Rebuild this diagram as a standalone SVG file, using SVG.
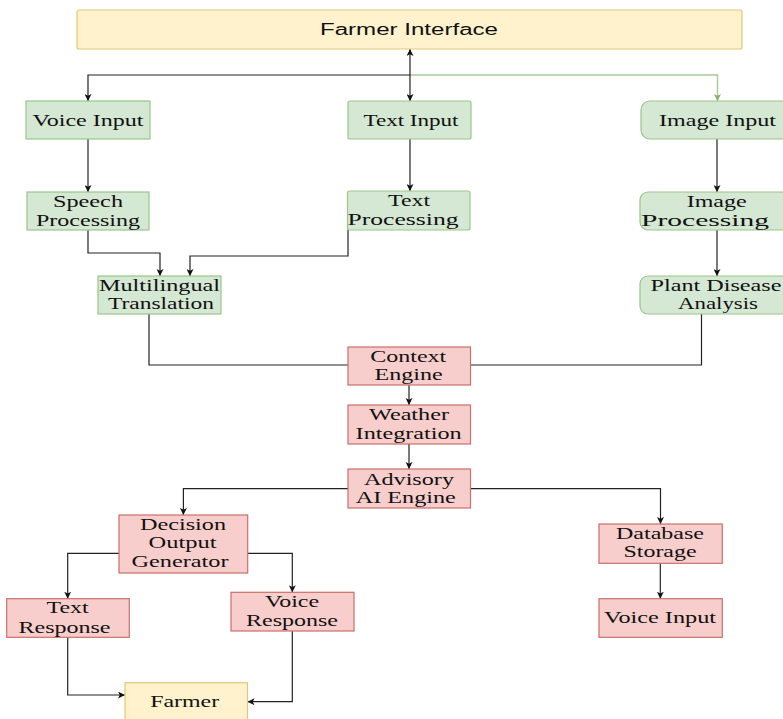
<svg xmlns="http://www.w3.org/2000/svg" width="783" height="719" viewBox="0 0 783 719">
<style>
.g{fill:#d5e8d4;stroke:#9bc58a;stroke-width:1.2}
.r{fill:#f8cecc;stroke:#cc6f6a;stroke-width:1.2}
.y{fill:#fff2cc;stroke:#e0c778;stroke-width:1.2}
text{font-family:"Liberation Serif","Times New Roman",serif;font-size:16px;fill:#111;text-anchor:middle}
.one{font-size:17.5px}
.sans{font-family:"Liberation Sans",Arial,sans-serif;font-size:16px}
.c{fill:none;stroke:#222;stroke-width:1.2}
.cg{fill:none;stroke:#a6cc94;stroke-width:1.4}
</style>
<defs>
<marker id="a" viewBox="0 0 8 8" refX="8" refY="4" markerWidth="7" markerHeight="7" markerUnits="userSpaceOnUse" orient="auto-start-reverse"><path d="M0,0 L8,4 L0,8 L2,4 z" fill="#111"/></marker>
<marker id="ag" viewBox="0 0 8 8" refX="8" refY="4" markerWidth="7" markerHeight="7" markerUnits="userSpaceOnUse" orient="auto"><path d="M0,0 L8,4 L0,8 L2,4 z" fill="#82b366"/></marker>
</defs>
<rect width="783" height="719" fill="#fff"/>
<g id="connectors">
<path class="c" d="M410,75 H88 V101" marker-end="url(#a)"/>
<path class="cg" d="M410,75 H717.5 V101" marker-end="url(#ag)"/>
<path class="c" d="M410,49 V101" marker-start="url(#a)" marker-end="url(#a)"/>
<path class="c" d="M88,139 V192" marker-end="url(#a)"/>
<path class="c" d="M410,139 V191" marker-end="url(#a)"/>
<path class="c" d="M717,139 V192" marker-end="url(#a)"/>
<path class="c" d="M88,230 V253 H160 V276" marker-end="url(#a)"/>
<path class="c" d="M348,230 V256 H190 V276" marker-end="url(#a)"/>
<path class="c" d="M717,230 V276" marker-end="url(#a)"/>
<path class="c" d="M149,314 V365 H348"/>
<path class="c" d="M701.5,314 V365 H470.5"/>
<path class="c" d="M409,385 V405" marker-end="url(#a)"/>
<path class="c" d="M409,444 V469" marker-end="url(#a)"/>
<path class="c" d="M348,488.7 H183.4 V515" marker-end="url(#a)"/>
<path class="c" d="M470.5,488.7 H660.5 V524" marker-end="url(#a)"/>
<path class="c" d="M119,553.3 H67.7 V598.7" marker-end="url(#a)"/>
<path class="c" d="M247.7,553.3 H292.3 V592.3" marker-end="url(#a)"/>
<path class="c" d="M660.3,563.3 V598.7" marker-end="url(#a)"/>
<path class="c" d="M67.7,637.3 V695 H125" marker-end="url(#a)"/>
<path class="c" d="M292.3,631 V701.7 H247.5" marker-end="url(#a)"/>
</g>
<g id="farmerInterface"><rect class="y" x="77" y="10" width="665" height="39" rx="2"/><text class="sans" x="409" y="35" textLength="178" lengthAdjust="spacingAndGlyphs">Farmer Interface</text></g>
<g id="voiceInput"><rect class="g" x="26" y="101" width="124" height="38"/><text class="one" x="88" y="126" textLength="111" lengthAdjust="spacingAndGlyphs">Voice Input</text></g>
<g id="textInput"><rect class="g" x="348" y="101" width="123" height="38" rx="2"/><text class="one" x="411" y="126" textLength="95" lengthAdjust="spacingAndGlyphs">Text Input</text></g>
<g id="imageInput"><rect class="g" x="641" y="101" width="150" height="38" rx="9"/><text class="one" x="717.5" y="126" textLength="117" lengthAdjust="spacingAndGlyphs">Image Input</text></g>
<g id="speechProcessing"><rect class="g" x="27" y="192" width="122" height="38"/><text x="88" y="206.7" textLength="70" lengthAdjust="spacingAndGlyphs">Speech</text><text x="88" y="225.7" textLength="104" lengthAdjust="spacingAndGlyphs">Processing</text></g>
<g id="textProcessing"><rect class="g" x="347.5" y="191" width="122.5" height="39" rx="2"/><text x="409" y="206" textLength="42" lengthAdjust="spacingAndGlyphs">Text</text><text x="403" y="225" textLength="111" lengthAdjust="spacingAndGlyphs">Processing</text></g>
<g id="imageProcessing"><rect class="g" x="640" y="192" width="150" height="38" rx="8"/><text x="716.7" y="206.7" textLength="60" lengthAdjust="spacingAndGlyphs">Image</text><text x="705" y="225.7" textLength="128" lengthAdjust="spacingAndGlyphs">Processing</text></g>
<g id="multilingualTranslation"><rect class="g" x="98" y="276" width="123" height="38"/><text x="159.5" y="291" textLength="121" lengthAdjust="spacingAndGlyphs">Multilingual</text><text x="161" y="309" textLength="106" lengthAdjust="spacingAndGlyphs">Translation</text></g>
<g id="plantDiseaseAnalysis"><rect class="g" x="640" y="276" width="150" height="38" rx="8"/><text x="716" y="291" textLength="131" lengthAdjust="spacingAndGlyphs">Plant Disease</text><text x="718" y="309" textLength="80" lengthAdjust="spacingAndGlyphs">Analysis</text></g>
<g id="contextEngine"><rect class="r" x="348" y="347" width="122.5" height="38"/><text x="408.3" y="361.7" textLength="76" lengthAdjust="spacingAndGlyphs">Context</text><text x="408.6" y="380" textLength="68" lengthAdjust="spacingAndGlyphs">Engine</text></g>
<g id="weatherIntegration"><rect class="r" x="348" y="405" width="122.5" height="39"/><text x="409" y="420" textLength="80" lengthAdjust="spacingAndGlyphs">Weather</text><text x="408.6" y="438.5" textLength="106" lengthAdjust="spacingAndGlyphs">Integration</text></g>
<g id="advisoryAIEngine"><rect class="r" x="348" y="469" width="122.5" height="39"/><text x="409" y="485" textLength="90" lengthAdjust="spacingAndGlyphs">Advisory</text><text x="405.8" y="503" textLength="100" lengthAdjust="spacingAndGlyphs">AI Engine</text></g>
<g id="decisionOutputGenerator"><rect class="r" x="119" y="515" width="128.7" height="58"/><text x="183" y="530" textLength="86" lengthAdjust="spacingAndGlyphs">Decision</text><text x="182.5" y="548.3" textLength="68" lengthAdjust="spacingAndGlyphs">Output</text><text x="180" y="566.7" textLength="97" lengthAdjust="spacingAndGlyphs">Generator</text></g>
<g id="textResponse"><rect class="r" x="6.7" y="598.7" width="122.6" height="38.6"/><text x="67.5" y="613.3" textLength="42" lengthAdjust="spacingAndGlyphs">Text</text><text x="64.5" y="632.7" textLength="92" lengthAdjust="spacingAndGlyphs">Response</text></g>
<g id="voiceResponse"><rect class="r" x="231" y="592.3" width="123" height="38.7"/><text x="292" y="607.3" textLength="54" lengthAdjust="spacingAndGlyphs">Voice</text><text x="292" y="626" textLength="92" lengthAdjust="spacingAndGlyphs">Response</text></g>
<g id="farmer"><rect class="y" x="125" y="682.7" width="122.5" height="45"/><text class="one" x="184.7" y="706.7" textLength="69" lengthAdjust="spacingAndGlyphs">Farmer</text></g>
<g id="databaseStorage"><rect class="r" x="599" y="524" width="123.3" height="39.3"/><text x="660" y="539.3" textLength="88" lengthAdjust="spacingAndGlyphs">Database</text><text x="660" y="557.3" textLength="73" lengthAdjust="spacingAndGlyphs">Storage</text></g>
<g id="voiceInputOutput"><rect class="r" x="599" y="598.7" width="123.3" height="38.6"/><text class="one" x="660" y="623.3" textLength="112" lengthAdjust="spacingAndGlyphs">Voice Input</text></g>
</svg>
